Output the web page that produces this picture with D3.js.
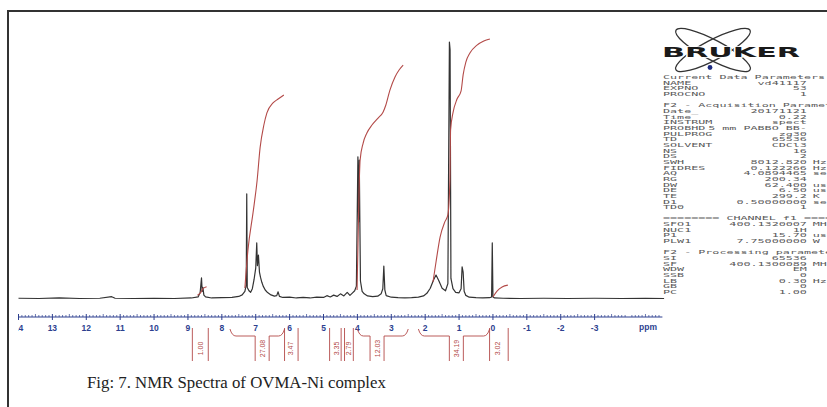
<!DOCTYPE html>
<html>
<head>
<meta charset="utf-8">
<script src="https://cdn.jsdelivr.net/npm/d3@7"></script>
<style>
  body { margin: 0; background: #fff; }
  svg { display: block; }
</style>
</head>
<body>
<svg id="chart" width="827" height="407"></svg>
<script>
// spectrum as [ppm, intensity] (tallest peak = 100)
const spectrum = [
  [14.0, 0.3], [13.4, 0.2], [12.8, 0.4], [12.2, 0.2], [11.6, 0.3], [11.25, 0.9], [11.15, 0.3],
  [10.6, 0.2], [10.0, 0.3], [9.4, 0.2], [8.9, 0.4], [8.7, 0.8], [8.64, 2.5], [8.60, 8.2],
  [8.58, 3], [8.56, 4.5], [8.53, 1.5], [8.48, 0.8], [8.3, 0.4], [8.0, 0.5], [7.7, 0.6],
  [7.5, 1.0], [7.4, 1.6], [7.32, 3], [7.28, 5.5], [7.265, 40.9], [7.25, 4.5], [7.2, 3.2],
  [7.15, 2.6], [7.1, 4], [7.05, 7.5], [7.0, 12], [6.97, 21.8], [6.95, 13], [6.92, 17.1],
  [6.89, 10.5], [6.86, 8.5], [6.82, 6.5], [6.78, 5], [6.72, 3.5], [6.65, 2.5], [6.55, 1.6],
  [6.45, 1.1], [6.38, 1.3], [6.34, 2.8], [6.30, 1.0], [6.2, 0.6], [6.0, 0.7], [5.8, 0.4],
  [5.6, 0.6], [5.4, 0.4], [5.2, 0.7], [5.0, 0.6], [4.9, 1.3], [4.8, 0.8], [4.7, 1.5],
  [4.6, 1.0], [4.5, 2.0], [4.4, 1.2], [4.3, 2.6], [4.22, 1.4], [4.15, 2.3], [4.08, 3.2],
  [4.03, 5], [3.985, 55.3], [3.965, 30], [3.945, 54], [3.91, 7], [3.86, 3], [3.8, 2],
  [3.7, 1.2], [3.55, 0.9], [3.4, 1.1], [3.3, 2], [3.25, 4], [3.22, 12.8], [3.19, 3.5],
  [3.15, 1.3], [3.0, 0.7], [2.8, 0.5], [2.6, 0.4], [2.4, 0.5], [2.2, 0.7], [2.05, 1.2],
  [1.95, 2.2], [1.85, 4.2], [1.75, 7.5], [1.68, 9.3], [1.6, 7.2], [1.5, 4.2], [1.4, 3.2],
  [1.33, 6], [1.285, 100], [1.265, 97], [1.24, 8], [1.18, 4], [1.1, 2.6], [1.0, 2.4],
  [0.94, 4], [0.91, 12.5], [0.88, 10.5], [0.85, 3], [0.8, 1.4], [0.7, 0.7], [0.5, 0.5],
  [0.3, 0.4], [0.1, 0.5], [0.04, 0.8], [0.02, 21.8], [0.0, 0.8], [-0.05, 0.4], [-0.3, 0.3],
  [-0.8, 0.2], [-1.5, 0.3], [-2.2, 0.2], [-3.0, 0.3], [-3.8, 0.2], [-4.5, 0.3], [-5.05, 0.2]
];

// integral curves, same intensity units
const integral1 = [[8.72, 1.5], [8.62, 2.6], [8.56, 4.0], [8.45, 4.8]];
const integral2 = [[7.32, 4.3], [7.23, 19], [7.08, 33.5], [6.96, 46], [6.87, 59], [6.76, 67.7],
  [6.67, 72.4], [6.49, 76.3], [6.34, 77.8], [6.17, 79.4]];
const integral3 = [[4.01, 3.5], [3.98, 23], [3.95, 42.4], [3.92, 54], [3.83, 60.7], [3.72, 64.6],
  [3.57, 67.7], [3.39, 70.4], [3.24, 72.8], [3.16, 75.5], [3.04, 81.3], [2.89, 86.4],
  [2.77, 89.1], [2.65, 91]];
const integral4 = [[1.77, 6.6], [1.68, 14.4], [1.56, 24.1], [1.42, 30], [1.33, 32.7], [1.27, 46.3],
  [1.25, 65.8], [1.18, 72.4], [1.06, 77.8], [0.94, 81], [0.88, 87.2], [0.80, 92.2],
  [0.68, 95.7], [0.47, 98.8], [0.27, 100.4], [0.09, 101.2]];
const integral5 = [[0.0, 0.8], [-0.12, 3.1], [-0.27, 4.7], [-0.44, 5.4]];

// integration regions under the axis
const integralFrom = [8.87, 7.76, 6.15, 4.82, 4.38, 4.00, 2.20, 0.10];
const integralTo = [8.40, 6.15, 5.75, 4.48, 4.12, 2.50, 0.10, -0.45];
const integralCenter = [8.64, 6.81, 5.97, 4.63, 4.25, 3.42, 1.08, -0.14];
const integralValues = ["1.00", "27.08", "3.47", "3.35", "2.79", "12.03", "34.19", "3.02"];

const axisTicks = [14, 13, 12, 11, 10, 9, 8, 7, 6, 5, 4, 3, 2, 1, 0, -1, -2, -3];

// parameter listing on the right
const paramLines = [
  ["Current Data Parameters"],
  ["NAME", "vd41117", ""], ["EXPNO", "53", ""], ["PROCNO", "1", ""],
  [],
  ["F2 - Acquisition Parameters"],
  ["Date_", "20171121", ""], ["Time", "0.22", ""], ["INSTRUM", "spect", ""],
  ["PROBHD", "5 mm PABBO BB-", ""], ["PULPROG", "zg30", ""], ["TD", "65536", ""],
  ["SOLVENT", "CDCl3", ""], ["NS", "16", ""], ["DS", "2", ""],
  ["SWH", "8012.820", "Hz"], ["FIDRES", "0.122266", "Hz"], ["AQ", "4.0894465", "sec"],
  ["RG", "200.34", ""], ["DW", "62.400", "usec"], ["DE", "6.50", "usec"],
  ["TE", "299.2", "K"], ["D1", "0.50000000", "sec"], ["TD0", "1", ""],
  [],
  ["======== CHANNEL f1 ========"],
  ["SFO1", "400.1320007", "MHz"], ["NUC1", "1H", ""], ["P1", "15.70", "usec"],
  ["PLW1", "7.75000000", "W"],
  [],
  ["F2 - Processing parameters"],
  ["SI", "65536", ""], ["SF", "400.1300089", "MHz"], ["WDW", "EM", ""],
  ["SSB", "0           ", ""], ["LB", "0.30", "Hz"], ["GB", "0           ", ""], ["PC", "1.00", ""]
];

const caption = "Fig: 7. NMR Spectra of OVMA-Ni complex";

const svg = d3.select("#chart");
const x = d3.scaleLinear().domain([14, -5]).range([18.5, 662.4]);
const y = d3.scaleLinear().domain([0, 100]).range([299, 42]);
const axisY = 317;
const blue = "#2d3f8f";
const red = "#b34a48";

// frame
svg.append("path")
  .attr("d", "M8,407 L8,11 L827,11")
  .attr("fill", "none")
  .attr("stroke", "#333")
  .attr("stroke-width", 2);

// spectrum
const line = d3.line().x(d => x(d[0])).y(d => y(d[1]));
svg.append("path")
  .datum(spectrum)
  .attr("d", line)
  .attr("fill", "none")
  .attr("stroke", "#333")
  .attr("stroke-width", 1.2)
  .attr("stroke-linejoin", "round");

// integral curves
const curve = d3.line().x(d => x(d[0])).y(d => y(d[1])).curve(d3.curveMonotoneX);
[integral1, integral2, integral3, integral4, integral5].forEach(data => {
  svg.append("path")
    .datum(data)
    .attr("d", curve)
    .attr("fill", "none")
    .attr("stroke", red)
    .attr("stroke-width", 1.1);
});

// ppm axis
const axisG = svg.append("g");
axisG.append("line")
  .attr("x1", x(14)).attr("x2", x(-5))
  .attr("y1", axisY).attr("y2", axisY)
  .attr("stroke", blue).attr("stroke-width", 1);

d3.range(-50, 141).forEach(i => {
  const v = i / 10;
  const h = i % 10 === 0 ? 0 : (i % 5 === 0 ? 3 : 2);
  if (h) {
    axisG.append("line")
      .attr("x1", x(v)).attr("x2", x(v))
      .attr("y1", axisY - h).attr("y2", axisY)
      .attr("stroke", blue).attr("stroke-width", 0.7);
  }
});
axisG.selectAll(".major")
  .data(axisTicks)
  .enter()
  .append("line")
  .attr("x1", d => x(d)).attr("x2", d => x(d))
  .attr("y1", axisY - 3).attr("y2", axisY + 3)
  .attr("stroke", blue).attr("stroke-width", 1);

svg.append("clipPath").attr("id", "axclip")
  .append("rect").attr("x", 18.3).attr("y", 300).attr("width", 700).attr("height", 50);

axisG.append("g").attr("clip-path", "url(#axclip)")
  .selectAll("text")
  .data(axisTicks)
  .enter()
  .append("text")
  .attr("x", d => x(d))
  .attr("y", 330.5)
  .attr("text-anchor", "middle")
  .attr("font-family", "Liberation Sans, Arial, sans-serif")
  .attr("font-weight", "bold")
  .attr("font-size", 8.5)
  .attr("fill", blue)
  .text(d => d);

axisG.append("text")
  .attr("x", 648).attr("y", 330)
  .attr("text-anchor", "middle")
  .attr("font-family", "Liberation Sans, Arial, sans-serif")
  .attr("font-weight", "bold")
  .attr("font-size", 8.5)
  .attr("fill", blue)
  .text("ppm");

// integral brackets and values
const intG = svg.append("g");
integralValues.forEach((lab, i) => {
  const x1 = x(integralFrom[i]), x2 = x(integralTo[i]), cx = x(integralCenter[i]);
  if (x2 - x1 < 24) {
    [x1, x2].forEach(xx => {
      intG.append("line")
        .attr("x1", xx).attr("x2", xx).attr("y1", 328).attr("y2", 361)
        .attr("stroke", red).attr("stroke-width", 0.9);
    });
  } else {
    intG.append("path")
      .attr("d", `M${x1},329 Q${x1 + 2},336 ${x1 + 6},336 L${cx - 7},336 M${cx + 7},336 L${x2 - 6},336 Q${x2 - 2},336 ${x2},329`)
      .attr("fill", "none").attr("stroke", red).attr("stroke-width", 0.9);
    [cx - 7, cx + 7].forEach(xx => {
      intG.append("line")
        .attr("x1", xx).attr("x2", xx).attr("y1", 336).attr("y2", 361)
        .attr("stroke", red).attr("stroke-width", 0.9);
    });
  }
  intG.append("text")
    .attr("transform", `translate(${cx},348.5) rotate(-90)`)
    .attr("text-anchor", "middle")
    .attr("dominant-baseline", "central")
    .attr("font-family", "Liberation Sans, Arial, sans-serif")
    .attr("font-size", 7)
    .attr("fill", red)
    .text(lab);
});

// Bruker logo
const logo = svg.append("g");
[28, -28].forEach(a => {
  logo.append("ellipse")
    .attr("cx", 713).attr("cy", 50).attr("rx", 42).attr("ry", 10)
    .attr("transform", `rotate(${a},713,50)`)
    .attr("fill", "none").attr("stroke", "#333").attr("stroke-width", 1.3);
});
logo.append("text")
  .attr("x", 662).attr("y", 56.5)
  .attr("textLength", 138).attr("lengthAdjust", "spacingAndGlyphs")
  .attr("font-family", "DejaVu Sans, sans-serif")
  .attr("font-weight", "bold")
  .attr("font-size", 13.5)
  .attr("fill", "#1a1a1a")
  .attr("stroke", "#fff").attr("stroke-width", 1.5).attr("paint-order", "stroke")
  .text("BRUKER");
logo.append("circle").attr("cx", 710).attr("cy", 67.5).attr("r", 2.4).attr("fill", "#1d2b80");

// parameter text block
const pG = svg.append("g")
  .attr("transform", "translate(663,0) scale(1.955,1)")
  .attr("font-family", "DejaVu Sans Mono, monospace")
  .attr("font-size", 6)
  .attr("fill", "#5a5a5a")
  .style("white-space", "pre");
paramLines.forEach((p, i) => {
  const yy = 79 + i * 5.66;
  if (p.length === 1) {
    pG.append("text").attr("x", 0).attr("y", yy).text(p[0]);
  } else if (p.length === 3) {
    pG.append("text").attr("x", 0).attr("y", yy).text(p[0]);
    pG.append("text").attr("x", 73.6).attr("y", yy).attr("text-anchor", "end").text(p[1]);
    if (p[2]) pG.append("text").attr("x", 76.6).attr("y", yy).text(p[2]);
  }
});

// caption
svg.append("text")
  .attr("x", 87).attr("y", 388)
  .attr("font-family", "Liberation Serif, Times New Roman, serif")
  .attr("font-size", 16.8)
  .attr("fill", "#222")
  .text(caption);
</script>
</body>
</html>
